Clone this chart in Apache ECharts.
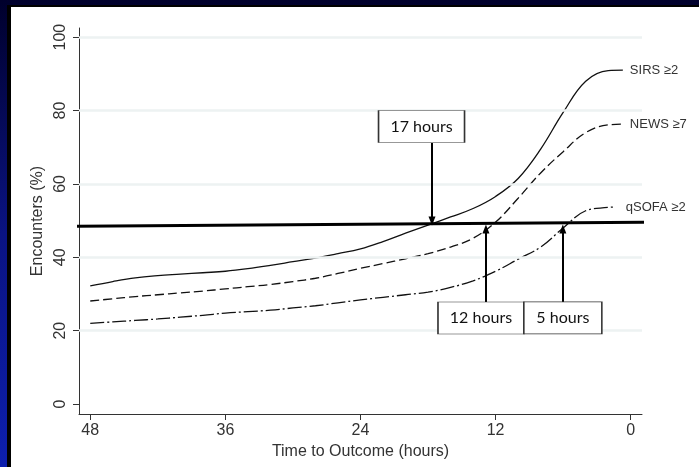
<!DOCTYPE html>
<html>
<head>
<meta charset="utf-8">
<script src="https://cdn.jsdelivr.net/npm/echarts@6/dist/echarts.min.js"></script>
<style>
html,body{margin:0;padding:0;}
#chart{width:699px;height:467px;}
</style>
</head>
<body>
<div id="chart"></div>
<script>
// ---- data (hours before outcome, % encounters meeting criterion) ----
const hours = [48, 46, 44, 42, 40, 38, 36, 34, 32, 30, 28, 26, 24, 22, 20, 18, 16, 14, 12, 10, 8, 6, 4, 2];
const sirsValues  = [32.2, 33.4, 34.4, 35.0, 35.4, 35.8, 36.2, 36.9, 37.8, 38.8, 39.8, 41.0, 42.3, 44.3, 46.6, 48.8, 51.0, 53.3, 56.6, 61.5, 69.5, 79.5, 88.0, 90.9];
const newsValues  = [28.1, 28.7, 29.3, 29.8, 30.3, 30.8, 31.4, 32.0, 32.6, 33.4, 34.3, 35.6, 37.0, 38.3, 39.6, 41.0, 42.8, 45.2, 49.6, 56.1, 63.0, 68.8, 74.0, 76.1];
const qsofaValues = [22.0, 22.4, 22.8, 23.2, 23.7, 24.2, 24.8, 25.2, 25.6, 26.2, 26.8, 27.6, 28.4, 29.1, 29.8, 30.5, 31.8, 33.6, 36.2, 39.5, 42.8, 48.0, 52.7, 53.6];

// where each drawn curve stops (hours, %)
const endHours  = [0.7, 0.7, 1.5];
const endValues = [91.0, 76.3, 53.7];

const seriesNames = ['SIRS \u22652', 'NEWS \u22657', 'qSOFA \u22652'];

const xTicks = [48, 36, 24, 12, 0];
const yTicks = [0, 20, 40, 60, 80, 100];
const yGridValues = [20, 40, 60, 80, 100];

// threshold line drawn on the slide (start/end in hours, %)
const thresholdHours  = [49.3, -1.8];
const thresholdValues = [48.5, 49.6];

// annotation boxes: text, hours, %
const boxTexts  = ['17 hours', '12 hours', '5 hours'];
const boxHours  = [18.58, 13.30, 6.03];
const boxValues = [75.66, 23.48, 23.48];

// annotation arrows: hours, from %, to %
const arrowHours = [17.65, 12.86, 6.03];
const arrowFrom  = [71.16, 27.84, 27.84];
const arrowTo    = [49.9, 47.73, 47.73];

const zip = (a, b) => a.map((v, i) => [v, b[i]]);

const axisColor = '#333';
const txtFont = 'Liberation Sans, Arial, sans-serif';
const labelGaps = [7, 7, 12];

const chart = echarts.init(document.getElementById('chart'), null, {renderer: 'canvas'});

function curve(idx, vals, type) {
  const name = seriesNames[idx];
  const data = zip(hours, vals).concat([[endHours[idx], endValues[idx]]]);
  return {
    name: name,
    type: 'line',
    data: data,
    smooth: 0.4,
    symbol: 'none',
    z: 3,
    lineStyle: {color: '#111', width: 1.3, type: type},
    markPoint: {
      silent: true,
      symbol: 'circle',
      symbolSize: 0,
      itemStyle: {color: 'transparent'},
      label: {
        show: true,
        position: 'right',
        distance: labelGaps[idx],
        formatter: name,
        color: '#333',
        fontSize: 13,
        fontFamily: txtFont
      },
      data: [{coord: [endHours[idx], endValues[idx]], value: name}]
    }
  };
}

const option = {
  animation: false,
  backgroundColor: {
    type: 'linear', x: 0, y: 0, x2: 0, y2: 1,
    colorStops: [
      {offset: 0, color: '#00002c'},
      {offset: 0.5, color: '#0a1382'},
      {offset: 1, color: '#0d1fae'}
    ]
  },
  graphic: [
    {type: 'rect', shape: {x: 7, y: 5, width: 700, height: 470}, style: {fill: '#000'}, z: -10, silent: true},
    {type: 'rect', shape: {x: 11, y: 7, width: 700, height: 470}, style: {fill: '#fff'}, z: -9, silent: true}
  ],
  grid: {left: 79, right: 57, top: 28, bottom: 53, containLabel: false},
  xAxis: {
    type: 'value',
    inverse: true,
    min: -1,
    max: 49,
    name: 'Time to Outcome (hours)',
    nameLocation: 'middle',
    nameGap: 28,
    nameTextStyle: {color: axisColor, fontSize: 16, fontFamily: txtFont},
    axisLine: {show: true, onZero: false, lineStyle: {color: axisColor, width: 1}},
    axisTick: {show: true, length: 6, customValues: xTicks, lineStyle: {color: axisColor}},
    axisLabel: {show: true, customValues: xTicks, margin: 9, color: axisColor, fontSize: 16, fontFamily: txtFont},
    splitLine: {show: false}
  },
  yAxis: {
    type: 'value',
    min: -2.7,
    max: 102.5,
    name: 'Encounters (%)',
    nameLocation: 'middle',
    nameGap: 27,
    nameRotate: 90,
    nameTextStyle: {color: axisColor, fontSize: 16, fontFamily: txtFont},
    axisLine: {show: true, onZero: false, lineStyle: {color: axisColor, width: 1}},
    axisTick: {show: true, length: 6, customValues: yTicks, lineStyle: {color: axisColor}},
    axisLabel: {show: true, customValues: yTicks, rotate: 90, margin: 10, color: axisColor, fontSize: 16, fontFamily: txtFont},
    splitLine: {show: false}
  },
  series: [
    {
      name: 'grid',
      type: 'line',
      data: [],
      silent: true,
      z: 1,
      markLine: {
        silent: true,
        symbol: ['none', 'none'],
        label: {show: false},
        lineStyle: {color: '#edf2f2', width: 2.5, type: 'solid'},
        data: yGridValues.map(v => ({yAxis: v}))
      }
    },
    curve(0, sirsValues, 'solid'),
    curve(1, newsValues, [9, 4]),
    curve(2, qsofaValues, [14, 3, 2, 3]),
    {
      name: 'threshold',
      type: 'line',
      data: zip(thresholdHours, thresholdValues),
      clip: false,
      symbol: 'none',
      z: 4,
      lineStyle: {color: '#000', width: 3},
      markLine: {
        silent: true,
        symbol: ['none', 'triangle'],
        symbolSize: [7, 9],
        label: {show: false},
        lineStyle: {color: '#000', width: 2, type: 'solid'},
        data: arrowHours.map((h, i) => [{coord: [h, arrowFrom[i]]}, {coord: [h, arrowTo[i]]}])
      },
      markPoint: {
        silent: true,
        symbol: 'rect',
        itemStyle: {color: '#fff', borderColor: '#333', borderWidth: 1},
        label: {show: true, position: 'inside', color: '#111', fontSize: 16, fontFamily: 'Lato, Open Sans, sans-serif'},
        data: boxTexts.map((t, i) => ({
          coord: [boxHours[i], boxValues[i]],
          value: t,
          symbolSize: [i === 2 ? 78 : 86, 32],
          label: {formatter: t}
        }))
      }
    }
  ]
};
chart.setOption(option);
</script>
</body>
</html>
